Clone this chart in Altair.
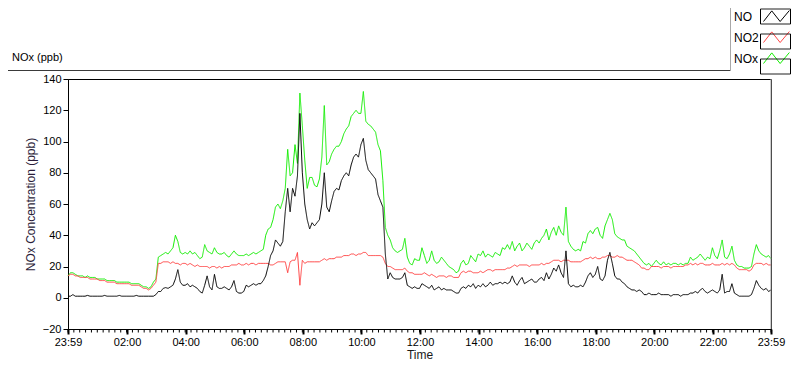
import altair as alt
import pandas as pd

# ---------------- data (5-minute samples starting 23:59) ----------------
STEP_MIN = 5
START = pd.Timestamp("2000-01-01 23:59", tz="UTC")

NO = [
    1, 1, 2, 1, 1, 1, 1, 1, 1.5, 1, 1, 1,
    1, 1, 1, 1.5, 1, 1, 1, 1, 1, 1.5, 1, 1,
    1, 1, 1, 1, 1.5, 1, 1, 1, 1, 1, 1, 1,
    2, 4, 4, 6, 6.5, 6, 7, 8, 12, 18, 10, 8,
    8, 9, 7, 8, 7, 6, 4, 3, 8, 14, 7, 5,
    15, 7, 6, 6, 7, 6, 5, 7, 11, 4, 3, 3,
    4, 8, 7, 8, 9, 8, 9, 9, 11, 14, 20, 27,
    30, 37, 35, 33, 36, 55, 70, 55, 70, 65, 78, 118,
    80, 60, 50, 44, 48, 46, 48, 50, 60, 80, 58, 55,
    62, 68, 70, 69, 75, 78, 80, 78, 85, 90, 92, 90,
    98, 102, 88, 82, 80, 78, 76, 66, 62, 58, 28, 12,
    16, 13, 12, 12, 12, 13, 16, 8, 7, 6, 7, 6,
    6, 9, 8, 7, 6, 8, 5, 6, 7, 5, 6, 5,
    5, 5, 4, 3, 3, 6, 7, 6, 8, 7, 9, 6,
    8, 7, 9, 7, 8, 10, 8, 9, 9, 10, 9, 10,
    9, 10, 14, 10, 8, 11, 13, 9, 10, 11, 12, 10,
    10, 12, 13, 11, 16, 12, 15, 19, 17, 21, 16, 13,
    30, 9, 7, 8, 7, 7, 8, 7, 10, 14, 16, 13,
    15, 20, 12, 11, 14, 24, 29, 22, 14, 12, 12, 10,
    9, 7, 6, 5, 5, 4, 5, 4, 2, 2, 3, 2,
    2, 2, 3, 2, 2, 2, 2, 1, 2, 2, 2, 1,
    2, 2, 2, 3, 3, 4, 3, 5, 6, 4, 3, 4,
    5, 4, 3, 5, 15, 3, 4, 4, 9, 3, 2, 1,
    1, 1, 1, 1, 2, 6, 11, 8, 6, 5, 6, 4,
    5,
]

NO2 = [
    14, 15, 15, 14, 14, 13, 13, 13, 13, 12, 12, 12,
    12, 11, 11, 11, 10, 10, 10, 10, 9, 9, 9, 9,
    9, 9, 8, 8, 8, 8, 7, 6, 6, 5, 6, 8,
    10, 22, 22, 23, 23, 23, 22, 23, 22, 22, 21, 22,
    22, 21, 22, 21, 20, 21, 20, 20, 20, 20, 19, 20,
    20, 19, 20, 19, 20, 20, 20, 21, 21, 21, 22, 21,
    21, 22, 21, 22, 22, 21, 22, 22, 22, 22, 22, 21,
    21, 22, 23, 23, 23, 23, 16, 23, 24, 24, 29, 8,
    24, 22, 23, 23, 23, 23, 23, 23, 24, 25, 24, 25,
    25, 25, 26, 26, 26, 27, 27, 27, 28, 28, 27, 28,
    28, 29, 29, 27, 27, 27, 27, 27, 27, 26, 22, 20,
    20, 19, 18, 18, 18, 18, 19, 17, 16, 16, 15, 15,
    15, 15, 16, 15, 14, 15, 14, 13, 14, 14, 14, 13,
    14, 14, 13, 13, 13, 16, 17, 16, 17, 17, 16, 16,
    16, 17, 16, 17, 18, 18, 17, 18, 18, 18, 18, 18,
    19, 19, 20, 21, 20, 21, 21, 21, 21, 20, 21, 21,
    21, 21, 22, 21, 22, 22, 23, 24, 24, 24, 23, 24,
    24, 24, 23, 23, 23, 23, 23, 24, 25, 25, 26, 25,
    26, 25, 25, 26, 26, 27, 27, 26, 26, 27, 26, 26,
    25, 24, 24, 24, 23, 22, 21, 19, 19, 18, 18, 20,
    20, 20, 20, 19, 20, 20, 20, 19, 20, 20, 20, 20,
    20, 21, 21, 22, 21, 22, 21, 22, 22, 21, 21, 21,
    22, 21, 21, 21, 22, 21, 22, 21, 22, 21, 19, 18,
    18, 18, 18, 17, 18, 21, 22, 22, 22, 21, 22, 21,
    21,
]

NOX = [
    14, 16, 16, 15, 14, 14, 14, 13, 14, 13, 13, 13,
    12, 12, 12, 12, 11, 11, 11, 11, 10, 10, 10, 10,
    10, 10, 9, 9, 9, 9, 8, 7, 7, 6, 7, 10,
    12, 26, 27, 28, 29, 28, 30, 32, 40, 36, 29, 28,
    29, 28, 30, 28, 29, 27, 25, 26, 34, 30, 29, 28,
    32, 29, 28, 28, 29, 27, 26, 28, 30, 28, 27, 27,
    27, 28, 27, 28, 29, 28, 29, 30, 31, 40, 44, 45,
    50, 58, 60, 57, 62, 70, 95, 78, 80, 98, 86, 131,
    110, 88, 70, 77, 77, 72, 71, 76, 90, 123, 85, 87,
    92, 95, 97, 97, 100, 105, 108, 110, 116, 118, 120, 118,
    118, 132, 113, 111, 110, 108, 106, 98, 94, 75, 45, 40,
    37, 32, 30, 29, 30, 31, 38, 26, 22, 21, 25, 24,
    24, 32, 27, 22, 24, 30, 24, 22, 23, 26, 24, 22,
    20, 19, 18, 16, 17, 22, 24, 21, 22, 27, 25, 23,
    28, 27, 30, 26, 28, 27, 26, 29, 28, 27, 32, 31,
    34, 31, 36, 30, 33, 35, 30, 32, 35, 33, 31, 35,
    37, 35, 38, 40, 44, 37, 42, 45, 40, 46, 42, 40,
    58, 36, 33, 31, 30, 31, 30, 36, 35, 41, 43, 41,
    44, 45, 40, 38, 46, 50, 54, 50, 41, 39, 38, 37,
    37, 33, 32, 31, 30, 28, 26, 24, 22, 21, 22, 20,
    22, 24, 22, 21, 23, 21, 22, 21, 22, 22, 21, 22,
    21, 22, 22, 26, 24, 25, 26, 28, 26, 24, 26, 25,
    32, 27, 25, 30, 37, 26, 25, 28, 33, 24, 21, 20,
    20, 19, 19, 19, 20, 28, 34, 30, 28, 27, 26, 27,
    25,
]

SERIES = ["NO", "NO2", "NOx"]
COLORS = ["#000000", "#ff4545", "#11ee00"]
MAJOR_TICK_MIN = [0, 121, 241, 361, 481, 601, 721, 841, 961, 1081, 1201, 1321, 1440]
MINOR_TICK_MIN = list(range(0, 1441, 12))
Y_TICKS = [-20, 0, 20, 40, 60, 80, 100, 120, 140]

# ---------------- build tables ----------------
base_ms = START.value // 10**6
rows = []
for name, vals in zip(SERIES, [NO, NO2, NOX]):
    for i, v in enumerate(vals):
        rows.append({"t": base_ms + i * STEP_MIN * 60000, "v": v,
                     "series": name, "box": name + " box"})
df = pd.DataFrame(rows)

def ms(m):
    return base_ms + m * 60000

minor_df = pd.DataFrame({"t": [ms(m) for m in MINOR_TICK_MIN]})

FONT = "Liberation Sans"
xscale = alt.Scale(type="utc", domain=[ms(0), ms(1440)], nice=False)
yscale = alt.Scale(domain=[-20, 140], nice=False, zero=False)

x_axis = alt.Axis(
    values=[ms(m) for m in MAJOR_TICK_MIN],
    labelExpr="utcFormat(datum.value, '%H:%M')",
    orient="bottom", grid=False, tickSize=5, tickWidth=2, tickColor="black",
    domainColor="black", labelColor="black", labelFont=FONT, labelFontSize=11,
    labelPadding=2, labelFlush=False, labelOverlap=False,
    title="Time", titleFont=FONT, titleFontSize=12, titleFontWeight="normal",
    titleColor="#1a1a1a", titleY=32, titleBaseline="bottom",
)
y_axis = alt.Axis(
    values=Y_TICKS, grid=False, tickSize=5, tickColor="black", domainColor="black",
    labelColor="black", labelFont=FONT, labelFontSize=11, labelPadding=2,
    title="NOx Concentration (ppb)", titleFont=FONT, titleFontSize=12,
    titleFontWeight="normal", titleColor="#2b1d3a", titlePadding=5,
)

ZIGZAG = "M-1.6,0.67L-0.5,-0.75L0.62,0.67L1.85,-0.8"
BOX = "M-2,-1H2V1H-2Z"
LEG_X, LEG_Y = 699.5, -70.5
color_legend = alt.Legend(
    orient="none", legendX=LEG_X, legendY=LEG_Y, title=None, padding=0,
    symbolType=ZIGZAG, symbolSize=225, symbolStrokeWidth=1, symbolFillColor="transparent",
    symbolOffset=0, rowPadding=5, labelFont=FONT, labelFontSize=12,
    labelColor="black", labelAlign="left", labelOffset={"expr": "-49.5"},
)
box_legend = alt.Legend(
    orient="none", legendX=LEG_X, legendY=LEG_Y, title=None, padding=0,
    symbolType=BOX, symbolSize=225, symbolStrokeWidth=1, symbolStrokeColor="black",
    symbolFillColor="transparent", symbolOffset=0, rowPadding=5,
    labelExpr="''", labelFontSize=12,
)

color_scale = alt.Scale(domain=SERIES, range=COLORS)
dash_scale = alt.Scale(domain=[s + " box" for s in SERIES], range=[[1, 0], [1, 0], [1, 0]])

def line_layer(name):
    return alt.Chart(df).transform_filter(alt.datum.series == name).mark_line(
        strokeWidth=1, interpolate="linear"
    ).encode(
        x=alt.X("t:T", scale=xscale, axis=x_axis),
        y=alt.Y("v:Q", scale=yscale, axis=y_axis),
        color=alt.Color("series:N", scale=color_scale, legend=color_legend),
        strokeDash=alt.StrokeDash("box:N", scale=dash_scale, legend=box_legend),
    )

minor_ticks = alt.Chart(minor_df).mark_rule(color="black", strokeWidth=1).encode(
    x=alt.X("t:T", scale=xscale, axis=x_axis),
    y=alt.value(250.5), y2=alt.value(253.5),
)

one = pd.DataFrame({"k": [0]})
right_border = alt.Chart(one).mark_rule(color="#9a9a9a", strokeWidth=1).encode(
    x=alt.value(703), y=alt.value(0), y2=alt.value(250))
top_line = alt.Chart(one).mark_rule(color="#3a3a3a", strokeWidth=1).encode(
    x=alt.value(-60), x2=alt.value(662), y=alt.value(-8.5))
legend_left = alt.Chart(one).mark_rule(color="#a8a8a8", strokeWidth=1).encode(
    x=alt.value(662.5), y=alt.value(-71), y2=alt.value(-8))
panel_title = alt.Chart(one).mark_text(
    align="left", baseline="middle", font=FONT, fontSize=11, color="black"
).encode(x=alt.value(-56), y=alt.value(-21), text=alt.value("NOx (ppb)"))

chart = alt.layer(
    line_layer("NOx"),
    line_layer("NO2"),
    line_layer("NO"),
    minor_ticks,
    right_border, top_line, legend_left, panel_title,
).properties(
    width=703, height=250,
    padding={"left": 60, "top": 71, "right": 21, "bottom": 32},
    autosize=alt.AutoSizeParams(type="none"),
    background="white",
).configure_view(stroke="black", strokeWidth=1)

chart.save("out.html", embed_options={"renderer": "svg", "actions": False})
